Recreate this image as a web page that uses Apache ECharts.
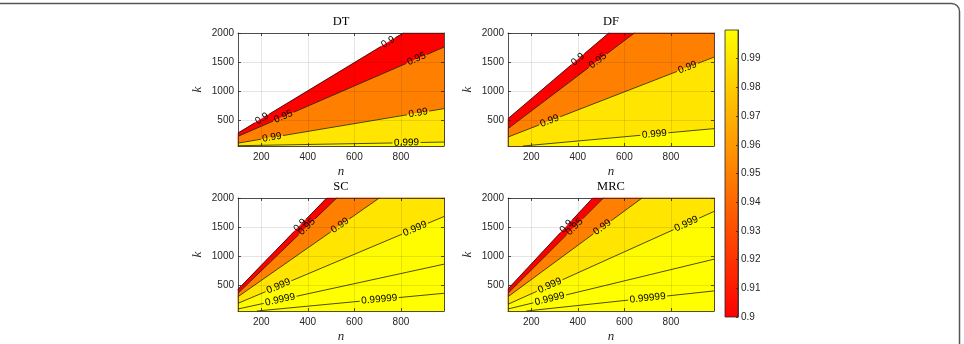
<!DOCTYPE html>
<html>
<head>
<meta charset="utf-8">
<script src="https://cdn.jsdelivr.net/npm/echarts@6/dist/echarts.min.js"></script>
<style>
html, body { margin: 0; padding: 0; background: #fff; }
#chart { width: 964px; height: 344px; }
</style>
</head>
<body>
<div id="chart"></div>
<script>
var titles = ['DT', 'DF', 'SC', 'MRC'];
var levels = [0.9, 0.95, 0.99, 0.999, 0.9999, 0.99999];
var levelNames = ['0.9', '0.95', '0.99', '0.999', '0.9999', '0.99999'];
var nRange = [100, 985];
var kRange = [50, 2000];
var nTicks = [200, 400, 600, 800];
var kTicks = [500, 1000, 1500, 2000];
var cbarRange = [0.9, 1.0];
var cbarTicks = [0.9, 0.91, 0.92, 0.93, 0.94, 0.95, 0.96, 0.97, 0.98, 0.99];

// contour lines, one per level: [[n, k] start, [n, k] end]
var dtLines = [[[100, 274], [810, 2000]], [[100, 217], [985, 1757]], [[100, 100], [985, 695]], [[100, 55], [985, 118]]];
var dfLines = [[[100, 522], [533, 2000]], [[100, 350], [643, 2000]], [[100, 205], [985, 1584]], [[164, 50], [985, 350]]];
var scLines = [[[100, 425], [481, 2000]], [[100, 356], [524, 2000]], [[100, 297], [707, 2000]], [[100, 183], [985, 1681]], [[100, 85], [985, 858]], [[181, 50], [985, 356]]];
var mrcLines = [[[100, 430], [464, 2000]], [[100, 356], [510, 2000]], [[100, 297], [676, 2000]], [[100, 166], [985, 1768]], [[100, 85], [985, 944]], [[179, 50], [985, 396]]];

// contour labels: [level index, n]
var dtLabels = [[0, 203], [1, 295], [0, 745], [1, 867], [2, 246], [2, 874], [3, 824]];
var dfLabels = [[0, 400], [1, 486], [2, 279], [2, 871], [3, 729]];
var scLabels = [[0, 367], [1, 396], [2, 538], [3, 274], [3, 860], [4, 281], [5, 707]];
var mrcLabels = [[0, 350], [1, 386], [2, 505], [3, 279], [3, 866], [4, 279], [5, 700]];

var plotLines = [dtLines, dfLines, scLines, mrcLines];
var plotLabels = [dtLabels, dfLabels, scLabels, mrcLabels];

var boxes = [[238, 33], [508, 33], [238, 198], [508, 198]];
var plotW = 206, plotH = 113;
var axisColor = '#262626';
var sans = '"Liberation Sans", Arial, sans-serif';
var serif = '"Liberation Serif", "Times New Roman", serif';

var measure = document.createElement('canvas').getContext('2d');
measure.font = '10px ' + sans;

// autumn colormap, clim [0.9, 1]
function levelColor(v) {
	var t = (v - cbarRange[0]) / (cbarRange[1] - cbarRange[0]);
	t = Math.max(0, Math.min(1, t));
	return 'rgb(255,' + Math.round(255 * t) + ',0)';
}

// clockwise position along the plot border (0 = top-left corner)
function perim(p) {
	var x0 = nRange[0], x1 = nRange[1], y0 = kRange[0], y1 = kRange[1];
	if (p[1] >= y1) return (p[0] - x0) / (x1 - x0);
	if (p[0] >= x1) return 1 + (y1 - p[1]) / (y1 - y0);
	if (p[1] <= y0) return 2 + (x1 - p[0]) / (x1 - x0);
	return 3 + (p[1] - y0) / (y1 - y0);
}

function regionPoly(seg) {
	var corners = [[nRange[0], kRange[1]], [nRange[1], kRange[1]], [nRange[1], kRange[0]], [nRange[0], kRange[0]]];
	var sa = perim(seg[0]), sb = perim(seg[1]);
	var end = sa <= sb ? sa + 4 : sa;
	var pts = [seg[0], seg[1]];
	for (var c = Math.floor(sb) + 1; c < end; c++) pts.push(corners[c % 4]);
	return pts;
}

function fillItem(lines) {
	return function (params, api) {
		var i = api.value(4);
		var pts = regionPoly(lines[i]).map(function (p) { return api.coord(p); });
		return {
			type: 'polygon',
			shape: { points: pts },
			style: { fill: levelColor(levels[i]), stroke: levelColor(levels[i]), lineWidth: 0.5 }
		};
	};
}

function lineItem(lines, labels) {
	return function (params, api) {
		var i = api.value(4);
		var seg = lines[i];
		var pa = api.coord(seg[0]), pb = api.coord(seg[1]);
		var dx = pb[0] - pa[0], dy = pb[1] - pa[1];
		var len = Math.sqrt(dx * dx + dy * dy);
		var ux = dx / len, uy = dy / len;
		var gaps = [], children = [];
		labels.forEach(function (lb) {
			if (lb[0] !== i) return;
			var t = (lb[1] - seg[0][0]) / (seg[1][0] - seg[0][0]);
			var cx = pa[0] + dx * t, cy = pa[1] + dy * t;
			var w = measure.measureText(levelNames[i]).width;
			gaps.push([t * len - w / 2 - 1.5, t * len + w / 2 + 1.5]);
			children.push({
				type: 'text',
				x: cx, y: cy,
				rotation: Math.atan2(-dy, dx),
				z2: 10,
				style: {
					text: levelNames[i], x: 0, y: 0,
					align: 'center', verticalAlign: 'middle',
					textAlign: 'center', textVerticalAlign: 'middle',
					font: '10px ' + sans, fill: '#000'
				}
			});
		});
		gaps.sort(function (a, b) { return a[0] - b[0]; });
		var s = 0;
		function pushSeg(a, b) {
			children.push({
				type: 'line',
				shape: { x1: pa[0] + ux * a, y1: pa[1] + uy * a, x2: pa[0] + ux * b, y2: pa[1] + uy * b },
				style: { stroke: '#000', lineWidth: 0.7 }
			});
		}
		gaps.forEach(function (g) {
			if (g[0] > s) pushSeg(s, g[0]);
			s = Math.max(s, g[1]);
		});
		if (s < len) pushSeg(s, len);
		return { type: 'group', children: children };
	};
}

function plain(v) { return String(v); }

var grid = [], xAxis = [], yAxis = [], series = [], graphic = [];
var tickStyle = { color: axisColor, width: 0.8 };
var labelStyle = { fontFamily: sans, fontSize: 10, color: axisColor, formatter: plain };
var nameStyle = { fontFamily: serif, fontStyle: 'italic', fontSize: 13, color: axisColor };

boxes.forEach(function (b, g) {
	grid.push({ left: b[0], top: b[1], width: plotW, height: plotH, show: false });
	xAxis.push({
		type: 'value', gridIndex: g, position: 'bottom', min: nRange[0], max: nRange[1],
		name: 'n', nameLocation: 'middle', nameGap: 19, nameTextStyle: nameStyle,
		axisLine: { show: true, onZero: false, lineStyle: tickStyle },
		axisTick: { show: true, inside: true, length: 3, customValues: nTicks, lineStyle: tickStyle },
		axisLabel: Object.assign({ customValues: nTicks, margin: 6 }, labelStyle),
		splitLine: { show: true, lineStyle: { color: 'rgba(38,38,38,0.15)', width: 0.8 } }
	});
	xAxis.push({
		type: 'value', gridIndex: g, position: 'top', min: nRange[0], max: nRange[1],
		axisLine: { show: true, onZero: false, lineStyle: tickStyle },
		axisTick: { show: true, inside: true, length: 3, customValues: nTicks, lineStyle: tickStyle },
		axisLabel: { show: false },
		splitLine: { show: false }
	});
	yAxis.push({
		type: 'value', gridIndex: g, position: 'left', min: kRange[0], max: kRange[1],
		name: 'k', nameLocation: 'middle', nameGap: 34, nameRotate: 90, nameTextStyle: nameStyle,
		axisLine: { show: true, onZero: false, lineStyle: tickStyle },
		axisTick: { show: true, inside: true, length: 3, customValues: kTicks, lineStyle: tickStyle },
		axisLabel: Object.assign({ customValues: kTicks, margin: 4 }, labelStyle),
		splitLine: { show: true, lineStyle: { color: 'rgba(38,38,38,0.15)', width: 0.8 } }
	});
	yAxis.push({
		type: 'value', gridIndex: g, position: 'right', min: kRange[0], max: kRange[1],
		axisLine: { show: true, onZero: false, lineStyle: tickStyle },
		axisTick: { show: true, inside: true, length: 3, customValues: kTicks, lineStyle: tickStyle },
		axisLabel: { show: false },
		splitLine: { show: false }
	});
	var lines = plotLines[g];
	var data = lines.map(function (s, i) { return [s[0][0], s[0][1], s[1][0], s[1][1], i]; });
	series.push({
		type: 'custom', xAxisIndex: 2 * g, yAxisIndex: 2 * g, z: -3, silent: true,
		renderItem: fillItem(lines), data: data
	});
	series.push({
		type: 'custom', xAxisIndex: 2 * g, yAxisIndex: 2 * g, z: -2, silent: true,
		renderItem: lineItem(lines, plotLabels[g]), data: data
	});
	graphic.push({
		type: 'text', x: b[0] + plotW / 2, y: b[1] - 11.5,
		style: { text: titles[g], align: 'center', verticalAlign: 'middle', font: '12.5px ' + serif, fill: '#000' }
	});
});

// colorbar
grid.push({ left: 725, top: 30, width: 13, height: 287, show: false });
xAxis.push({ type: 'value', gridIndex: 4, min: 0, max: 1, show: false });
yAxis.push({
	type: 'value', gridIndex: 4, position: 'right', min: cbarRange[0], max: cbarRange[1],
	axisLine: { show: true, onZero: false, lineStyle: tickStyle },
	axisTick: { show: true, inside: true, length: 2, customValues: cbarTicks, lineStyle: tickStyle },
	axisLabel: Object.assign({}, labelStyle, {
		customValues: cbarTicks, margin: 3,
		formatter: function (v) { return String(Math.round(v * 100) / 100); }
	}),
	splitLine: { show: false }
});
series.push({
	type: 'custom', xAxisIndex: 8, yAxisIndex: 8, z: -3, silent: true,
	data: [[0, cbarRange[0], cbarRange[1]]],
	renderItem: function (params, api) {
		var top = api.coord([0, api.value(2)]);
		var bottom = api.coord([0, api.value(1)]);
		var cs = params.coordSys;
		return {
			type: 'rect',
			shape: { x: cs.x, y: top[1], width: cs.width, height: bottom[1] - top[1] },
			style: {
				fill: new echarts.graphic.LinearGradient(0, 0, 0, 1, [
					{ offset: 0, color: levelColor(cbarRange[1]) },
					{ offset: 1, color: levelColor(cbarRange[0]) }
				]),
				stroke: axisColor, lineWidth: 0.8
			}
		};
	}
});

// outer frame of the figure
graphic.push({
	type: 'rect', z: 100, silent: true,
	shape: { x: -20, y: 3.5, width: 979.5, height: 400, r: 8 },
	style: { fill: 'none', stroke: '#555', lineWidth: 1.5 }
});

var myChart = echarts.init(document.getElementById('chart'));
myChart.setOption({
	animation: false,
	grid: grid,
	xAxis: xAxis,
	yAxis: yAxis,
	series: series,
	graphic: graphic
});
</script>
</body>
</html>
